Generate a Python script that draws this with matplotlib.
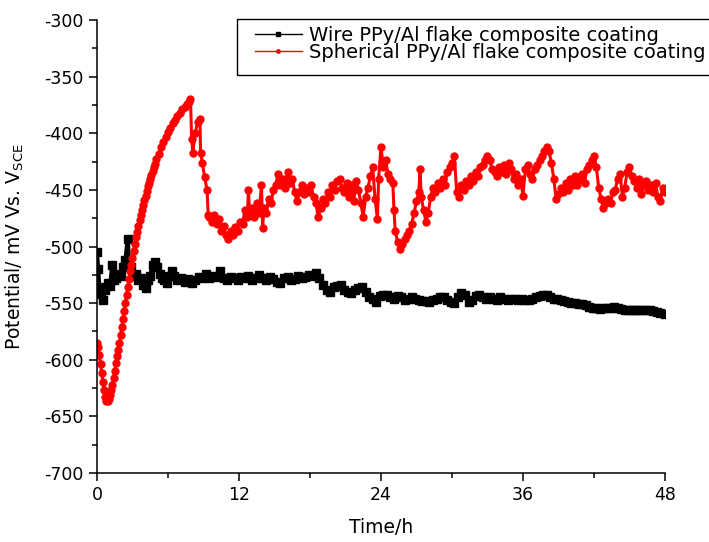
import matplotlib.pyplot as plt
from matplotlib.lines import Line2D
from matplotlib.patches import Rectangle
from matplotlib.ticker import MultipleLocator

plt.rcParams['font.family'] = ['DejaVu Sans']
plt.rcParams['mathtext.default'] = 'regular'
plt.rcParams['axes.unicode_minus'] = False

# Wire PPy/Al flake composite coating (time in h, potential in mV)
wire_t = [0, 0.1, 0.2, 0.35, 0.5, 0.7, 0.9, 1.1, 1.3, 1.4, 1.6, 1.8, 2.0, 2.2, 2.4, 2.6, 2.7, 2.9,
          3.1, 3.3, 3.5, 3.7, 3.9, 4.1, 4.3, 4.5, 4.7, 4.9, 5.1, 5.3, 5.5, 5.7, 5.9, 6.1, 6.3, 6.5,
          6.8, 7.1, 7.4, 7.7, 8.0, 8.3, 8.6, 8.9, 9.2, 9.5, 9.8, 10.1, 10.4, 10.7, 11.0, 11.3, 11.6,
          11.9, 12.2, 12.5, 12.8, 13.1, 13.4, 13.7, 14.0, 14.3, 14.6, 14.9, 15.2, 15.5, 15.8, 16.1,
          16.4, 16.7, 17.0, 17.3, 17.6, 17.9, 18.2, 18.5, 18.8, 19.1, 19.4, 19.7, 20.0, 20.3, 20.6,
          20.9, 21.2, 21.5, 21.8, 22.1, 22.4, 22.7, 23.0, 23.3, 23.6, 23.9, 24.2, 24.5, 24.8, 25.1,
          25.4, 25.7, 26.0, 26.3, 26.6, 26.9, 27.2, 27.5, 27.8, 28.1, 28.4, 28.7, 29.0, 29.3, 29.6,
          29.9, 30.2, 30.5, 30.8, 31.1, 31.4, 31.7, 32.0, 32.3, 32.6, 32.9, 33.2, 33.5, 33.8, 34.1,
          34.4, 34.7, 35.0, 35.3, 35.6, 35.9, 36.2, 36.5, 36.8, 37.1, 37.4, 37.7, 38.0, 38.3, 38.6,
          38.9, 39.2, 39.5, 39.8, 40.1, 40.4, 40.7, 41.0, 41.3, 41.6, 41.9, 42.2, 42.5, 42.8, 43.1,
          43.4, 43.7, 44.0, 44.3, 44.6, 44.9, 45.2, 45.5, 45.8, 46.1, 46.4, 46.7, 47.0, 47.3, 47.6, 48.0]
wire_v = [-505, -520, -536, -542, -547, -538, -532, -535, -516, -530, -528, -524, -526, -518, -512, -493, -512, -518,
          -526, -524, -530, -528, -534, -537, -530, -526, -516, -514, -518, -524, -528, -530, -532, -526, -522, -526,
          -530, -528, -531, -529, -532, -530, -527, -528, -524, -528, -526, -527, -522, -528, -530, -527, -528,
          -530, -527, -528, -526, -530, -528, -525, -528, -530, -527, -529, -531, -532, -528, -527,
          -530, -529, -526, -528, -527, -525, -526, -523, -528, -534, -538, -540, -536, -535, -534,
          -538, -540, -541, -538, -537, -536, -540, -545, -546, -549, -544, -543, -543, -545, -546,
          -544, -545, -547, -546, -545, -546, -547, -548, -548, -549, -547, -546, -545, -545, -547,
          -549, -550, -545, -541, -543, -549, -547, -544, -543, -545, -546, -545, -546, -547, -545,
          -546, -547, -546, -546, -547, -546, -547, -547, -546, -545, -544, -543, -543, -545, -546,
          -546, -547, -548, -549, -550, -550, -551, -551, -552, -553, -554, -554, -555, -554, -554,
          -554, -553, -554, -555, -556, -556, -556, -556, -556, -556, -556, -556, -557, -558, -559, -560]

# Spherical PPy/Al flake composite coating
sph_t = [0, 0.1, 0.2, 0.3, 0.4, 0.5, 0.6, 0.7, 0.8, 0.9, 1.0, 1.1, 1.2, 1.3, 1.4, 1.5, 1.6, 1.7,
         1.8, 1.9, 2.0, 2.1, 2.2, 2.3, 2.4, 2.5, 2.6, 2.7, 2.8, 2.9, 3.0, 3.1, 3.2, 3.3, 3.4, 3.5,
         3.6, 3.7, 3.8, 3.9, 4.0, 4.1, 4.2, 4.3, 4.4, 4.5, 4.6, 4.7, 4.8, 4.9, 5.0,
         5.2, 5.4, 5.6, 5.8, 6.0, 6.2, 6.4, 6.6, 6.8, 7.0, 7.2, 7.4, 7.6,
         7.8, 7.9, 8.0, 8.1, 8.3, 8.5, 8.7, 8.75, 8.9, 9.1, 9.3, 9.4,
         9.5, 9.7, 9.9, 10.1, 10.3, 10.5, 10.7, 10.9, 11.1, 11.3, 11.5, 11.7, 11.9, 12.1, 12.3, 12.5,
         12.7, 12.8, 12.9, 13.1, 13.3, 13.5, 13.7, 13.9, 14.0, 14.1, 14.3, 14.5, 14.7, 14.9, 15.1, 15.3,
         15.5, 15.7, 15.9, 16.1, 16.3, 16.5, 16.7, 16.9, 17.1, 17.3, 17.5, 17.7, 17.9, 18.1, 18.3, 18.5,
         18.7, 18.9, 19.1, 19.3, 19.5, 19.7, 19.9, 20.1, 20.3, 20.5, 20.7, 20.9, 21.1, 21.3, 21.5, 21.7,
         21.9, 22.1, 22.3, 22.5, 22.7, 22.9, 23.1, 23.3, 23.5, 23.7, 23.8, 24.0, 24.2, 24.4, 24.6, 24.8,
         25.0, 25.1, 25.2, 25.4, 25.6, 25.8, 26.0, 26.2, 26.4, 26.6, 26.8, 27.0, 27.2, 27.3, 27.4, 27.6,
         27.8, 28.0, 28.2, 28.4, 28.6, 28.8, 29.0, 29.2, 29.4, 29.6, 29.8, 30.0, 30.2, 30.4, 30.6, 30.8,
         31.0, 31.2, 31.4, 31.6, 31.8, 32.0, 32.2, 32.4, 32.6, 32.8, 33.0, 33.2, 33.4, 33.6, 33.8, 34.0,
         34.2, 34.4, 34.6, 34.8, 35.0, 35.2, 35.4, 35.6, 35.8, 36.0, 36.2, 36.4, 36.6, 36.8, 37.0, 37.2,
         37.4, 37.6, 37.8, 38.0, 38.2, 38.4, 38.6, 38.8, 39.0, 39.2, 39.4, 39.6, 39.8, 40.0, 40.2, 40.4,
         40.6, 40.8, 41.0, 41.2, 41.4, 41.6, 41.8, 42.0, 42.2, 42.4, 42.6, 42.8, 43.0, 43.2, 43.4, 43.6,
         43.8, 44.0, 44.2, 44.4, 44.6, 44.8, 45.0, 45.2, 45.4, 45.6, 45.8, 46.0, 46.2, 46.4, 46.6, 46.8,
         47.0, 47.2, 47.4, 47.6, 47.8, 48.0]
sph_v = [-585, -589, -596, -604, -612, -620, -627, -633, -636, -636, -635, -631, -627, -622, -616, -610, -603, -597,
         -591, -585, -578, -571, -564, -557, -550, -543, -536, -529, -522, -516, -510, -504, -498, -492, -487, -482,
         -477, -472, -468, -463, -459, -455, -451, -447, -444, -440, -437, -433, -430, -427, -423,
         -418, -412, -408, -403, -399, -395, -391, -388, -385, -382, -379, -377, -374,
         -372, -370, -405, -417, -400, -390, -387, -417, -426, -439, -450, -472,
         -474, -478, -472, -480, -476, -486, -482, -490, -493, -486, -490, -483, -486, -478, -480, -468,
         -474, -450, -472, -466, -474, -462, -470, -446, -484, -466, -470, -458, -462, -450, -446, -436,
         -446, -440, -448, -434, -444, -440, -452, -460, -452, -446, -454, -448, -452, -446, -456, -462,
         -474, -466, -458, -462, -452, -456, -446, -450, -442, -440, -448, -452, -444, -456, -446, -460,
         -442, -450, -462, -474, -456, -448, -438, -430, -458, -476, -440, -412, -430, -424, -436, -440,
         -444, -468, -486, -496, -502, -498, -493, -490, -486, -480, -470, -460, -452, -432, -456, -468,
         -478, -470, -456, -448, -452, -444, -448, -440, -446, -434, -430, -426, -420, -452, -456, -446,
         -450, -442, -446, -438, -442, -434, -438, -430, -428, -424, -420, -424, -432, -434, -438, -430,
         -434, -428, -436, -426, -432, -440, -436, -446, -440, -455, -432, -428, -436, -440, -432, -428,
         -424, -420, -416, -412, -416, -426, -440, -458, -454, -448, -452, -444, -450, -440, -446, -438,
         -446, -440, -436, -444, -432, -428, -424, -420, -430, -448, -458, -466, -462, -458, -462, -452,
         -450, -440, -436, -456, -448, -434, -430, -438, -442, -448, -440, -454, -446, -442, -450, -446,
         -452, -444, -456, -460, -448, -452]

fig = plt.figure(figsize=(7.09, 5.42), dpi=100)
ax = fig.add_axes([0.1368, 0.1273, 0.8011, 0.8358])

ax.plot(wire_t, wire_v, color='black', lw=3, marker='s', markersize=5.5)
ax.plot(sph_t, sph_v, color='red', lw=2.2, marker='o', markersize=5)

ax.set_xlim(0, 48)
ax.set_ylim(-700, -300)
ax.xaxis.set_major_locator(MultipleLocator(12))
ax.xaxis.set_minor_locator(MultipleLocator(6))
ax.yaxis.set_major_locator(MultipleLocator(50))
ax.yaxis.set_minor_locator(MultipleLocator(25))
ax.tick_params(which='major', direction='out', length=6, width=1.1, labelsize=12.5)
ax.tick_params(which='minor', direction='out', length=3.5, width=1.1)

for side in ['top', 'right']:
    ax.spines[side].set_visible(False)
for side in ['left', 'bottom']:
    ax.spines[side].set_linewidth(1.1)

ax.set_xlabel('Time/h', fontsize=13.5)
ax.set_ylabel('Potential/ mV Vs. V$_{SCE}$', fontsize=13.5)
ax.xaxis.set_label_coords(0.5, -0.1)
ax.yaxis.set_label_coords(-0.125, 0.5)

# legend, frame runs off the right edge like the original
handles = [Line2D([], [], color='black', lw=1, marker='s', markersize=2.5),
           Line2D([], [], color='red', lw=1, marker='o', markersize=2.5)]
labels = ['Wire PPy/Al flake composite coating', 'Spherical PPy/Al flake composite coating']
fig.legend(handles, labels, loc='upper left', bbox_to_anchor=(255 / 709, 1 - 26 / 542),
           frameon=False, fontsize=14, handlelength=2.4, handletextpad=0.4,
           borderpad=0, borderaxespad=0, labelspacing=-0.1)
fig.patches.append(Rectangle((237 / 709, 1 - 75 / 542), 0.7, 56 / 542, transform=fig.transFigure,
                             fill=False, edgecolor='black', lw=1.0))

fig.savefig('out.png', dpi=100)
